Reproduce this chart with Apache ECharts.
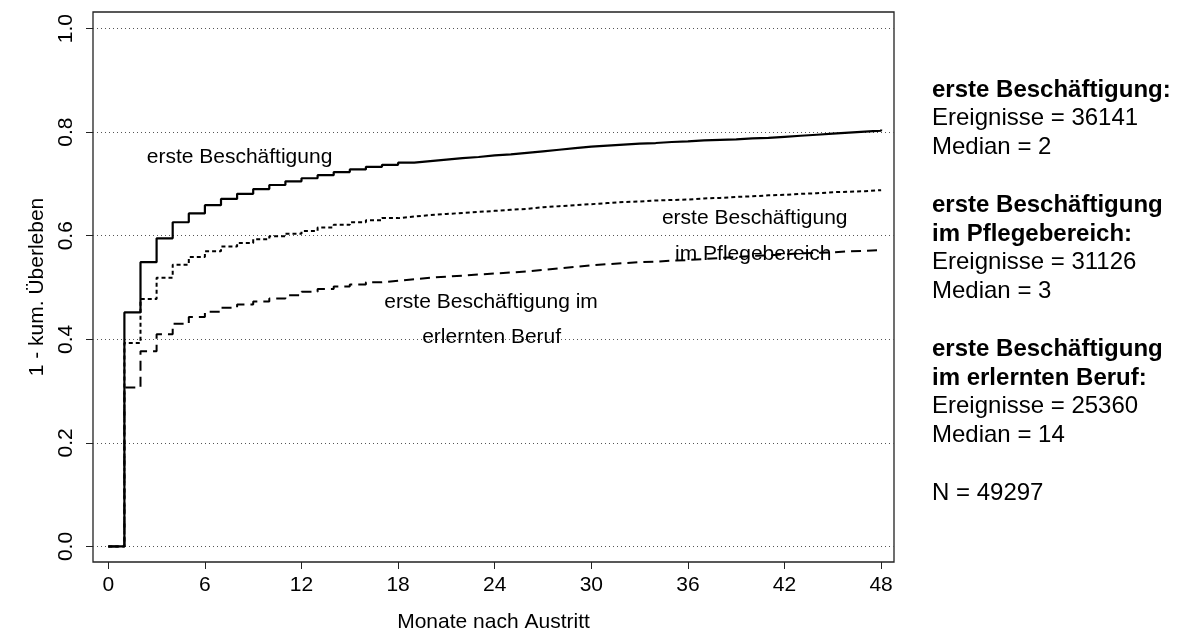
<!DOCTYPE html>
<html>
<head>
<meta charset="utf-8">
<script src="https://cdn.jsdelivr.net/npm/echarts@6/dist/echarts.min.js"></script>
<style>
html,body{margin:0;padding:0;background:#fff;}
#chart{width:1177px;height:641px;}
</style>
</head>
<body>
<div id="chart"></div>
<script>
// ---- data ----
var months = [];
for (var m = 0; m <= 48; m++) months.push(m);

var ersteBeschaeftigung = [0, 0.452, 0.549, 0.595, 0.626, 0.643, 0.659, 0.671, 0.681, 0.690,
  0.698, 0.705, 0.711, 0.717, 0.723, 0.728, 0.733, 0.737, 0.741, 0.744,
  0.747, 0.750, 0.752, 0.755, 0.757, 0.760, 0.763, 0.766, 0.769, 0.772,
  0.774, 0.776, 0.778, 0.779, 0.781, 0.782, 0.784, 0.785, 0.786, 0.788,
  0.789, 0.791, 0.793, 0.795, 0.797, 0.799, 0.801, 0.803, 0.805];

var pflegebereich = [0, 0.393, 0.478, 0.519, 0.544, 0.559, 0.570, 0.579, 0.586, 0.593,
  0.599, 0.604, 0.609, 0.616, 0.621, 0.626, 0.630, 0.634, 0.637, 0.640,
  0.642, 0.644, 0.646, 0.648, 0.650, 0.652, 0.655, 0.657, 0.659, 0.661,
  0.663, 0.665, 0.666, 0.668, 0.669, 0.670, 0.672, 0.673, 0.675, 0.676,
  0.678, 0.679, 0.681, 0.682, 0.684, 0.685, 0.686, 0.688, 0.689];

var erlernterBeruf = [0, 0.307, 0.377, 0.410, 0.430, 0.443, 0.453, 0.461, 0.467, 0.473,
  0.479, 0.485, 0.492, 0.497, 0.502, 0.506, 0.510, 0.513, 0.516, 0.519,
  0.521, 0.523, 0.525, 0.527, 0.529, 0.531, 0.534, 0.537, 0.540, 0.543,
  0.545, 0.547, 0.549, 0.550, 0.552, 0.553, 0.555, 0.557, 0.559, 0.561,
  0.562, 0.564, 0.566, 0.567, 0.568, 0.570, 0.571, 0.572, 0.574];

var xTicks = [0, 6, 12, 18, 24, 30, 36, 42, 48];
var yTicks = [0, 0.2, 0.4, 0.6, 0.8, 1.0];

var sideText = [
  {t: 'erste Beschäftigung:', b: true},
  {t: 'Ereignisse = 36141', b: false},
  {t: 'Median = 2', b: false},
  null,
  {t: 'erste Beschäftigung', b: true},
  {t: 'im Pflegebereich:', b: true},
  {t: 'Ereignisse = 31126', b: false},
  {t: 'Median = 3', b: false},
  null,
  {t: 'erste Beschäftigung', b: true},
  {t: 'im erlernten Beruf:', b: true},
  {t: 'Ereignisse = 25360', b: false},
  {t: 'Median = 14', b: false},
  null,
  {t: 'N = 49297', b: false}
];

// in-plot labels (data coordinates: month, value)
var curveLabels = [
  {t: 'erste Beschäftigung', x: 8.15, y: 0.7525},
  {t: 'erste Beschäftigung', x: 40.15, y: 0.6346},
  {t: 'im Pflegebereich', x: 40.06, y: 0.5637},
  {t: 'erste Beschäftigung im', x: 23.77, y: 0.4723},
  {t: 'erlernten Beruf', x: 23.81, y: 0.405}
];

// ---- chart ----
var FONT = '"Liberation Sans", Arial, Helvetica, sans-serif';
function pairs(vals) { return months.map(function (m, i) { return [m, vals[i]]; }); }

var chart = echarts.init(document.getElementById('chart'), null, {renderer: 'canvas'});

var option = {
  animation: false,
  backgroundColor: '#fff',
  textStyle: {fontFamily: FONT},
  grid: {left: 93, right: 283, top: 12, bottom: 79, show: true,
    borderColor: '#222', borderWidth: 1.3, backgroundColor: 'transparent'},
  xAxis: {
    type: 'value', min: -0.95, max: 48.8,
    axisLine: {show: false, onZero: false},
    axisTick: {show: true, length: 7, customValues: xTicks, lineStyle: {color: '#222', width: 1}},
    axisLabel: {customValues: xTicks, fontSize: 21, color: '#000', margin: 13, fontFamily: FONT},
    splitLine: {show: false},
    name: 'Monate nach Austritt', nameLocation: 'middle', nameGap: 50,
    nameTextStyle: {fontSize: 21, color: '#000', fontFamily: FONT}
  },
  yAxis: {
    type: 'value', min: -0.03, max: 1.032,
    axisLine: {show: false, onZero: false},
    axisTick: {show: true, length: 7, customValues: yTicks, lineStyle: {color: '#222', width: 1}},
    axisLabel: {customValues: yTicks, fontSize: 21, color: '#000', margin: 16, rotate: 90,
      fontFamily: FONT, formatter: function (v) { return v.toFixed(1); }},
    splitLine: {show: false},
    name: '1 - kum. Überleben', nameLocation: 'middle', nameGap: 43, nameRotate: 90,
    nameTextStyle: {fontSize: 21, color: '#000', fontFamily: FONT}
  },
  series: [
    {
      type: 'line', name: 'erste Beschäftigung', data: pairs(ersteBeschaeftigung), step: 'end',
      showSymbol: false, symbol: 'none', z: 5,
      lineStyle: {color: '#000', width: 2.2, type: 'solid'},
      markLine: {
        silent: true, symbol: ['none', 'none'], label: {show: false}, z: 1,
        lineStyle: {color: '#555', width: 1, type: [1, 3]},
        data: yTicks.map(function (v) { return {yAxis: v}; })
      }
    },
    {
      type: 'line', name: 'erste Beschäftigung im Pflegebereich', data: pairs(pflegebereich), step: 'end',
      showSymbol: false, symbol: 'none', z: 4,
      lineStyle: {color: '#000', width: 2, type: [4, 3]}
    },
    {
      type: 'line', name: 'erste Beschäftigung im erlernten Beruf', data: pairs(erlernterBeruf), step: 'end',
      showSymbol: false, symbol: 'none', z: 3,
      lineStyle: {color: '#000', width: 2, type: [10, 6]}
    }
  ]
};
chart.setOption(option);

// text annotations
var graphics = [];
curveLabels.forEach(function (l) {
  var p = chart.convertToPixel({gridIndex: 0}, [l.x, l.y]);
  graphics.push({type: 'text', x: p[0], y: p[1], z: 10,
    style: {text: l.t, font: '21px ' + FONT, fill: '#000', textAlign: 'center', textVerticalAlign: 'middle'}});
});
var lineH = 28.8, y0 = 90;
sideText.forEach(function (s, i) {
  if (!s) return;
  graphics.push({type: 'text', x: 932, y: y0 + i * lineH, z: 10,
    style: {text: s.t, font: (s.b ? 'bold ' : '') + '24px ' + FONT, fill: '#000',
      textAlign: 'left', textVerticalAlign: 'middle'}});
});
chart.setOption({graphic: graphics});
</script>
</body>
</html>
